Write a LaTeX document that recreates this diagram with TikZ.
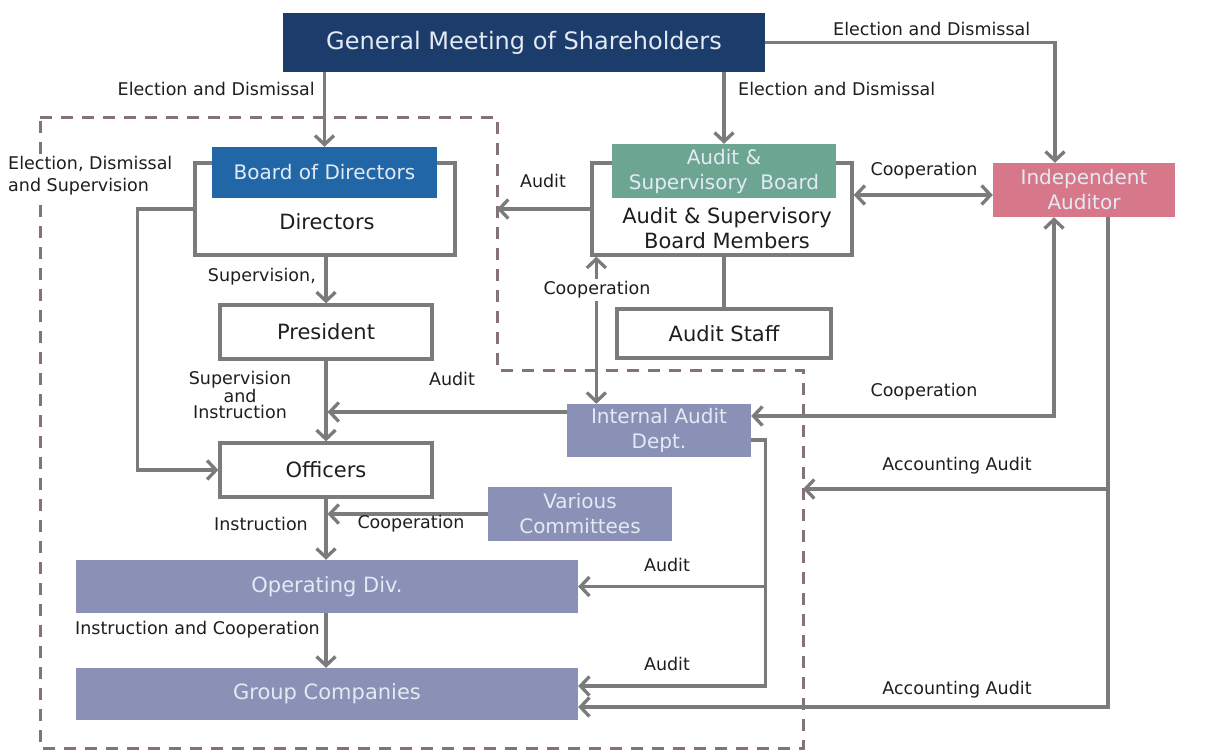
\documentclass[tikz,border=0pt]{standalone}
\usepackage{fontspec}
\setmainfont{DejaVu Sans}
\usetikzlibrary{arrows.meta,calc}
\definecolor{gmblue}{HTML}{1C3D6C}
\definecolor{bodblue}{HTML}{2167A8}
\definecolor{asbgreen}{HTML}{6CA693}
\definecolor{indred}{HTML}{D6788A}
\definecolor{lav}{HTML}{8A90B6}
\definecolor{linegray}{HTML}{7B7B7B}
\definecolor{dashc}{HTML}{857373}
\definecolor{textdark}{HTML}{1E1E1E}
\definecolor{lighttext}{HTML}{E4EAF3}
\begin{document}
\begin{tikzpicture}[x=1pt,y=-1pt,
  ln/.style={draw=linegray, line width=3.3pt},
  arr/.style={ln, -{Straight Barb[length=9pt,width=19pt]}},
  darr/.style={ln, {Straight Barb[length=9pt,width=19pt]}-{Straight Barb[length=9pt,width=19pt]}},
  dashline/.style={draw=dashc, line width=3pt, dash pattern=on 12pt off 9pt},
  whitebox/.style={draw=linegray, line width=3.3pt, fill=white, inner sep=0pt, text=textdark, font=\fontsize{21}{25}\selectfont},
  colbox/.style={inner sep=0pt, text=lighttext, align=center, font=\fontsize{20}{25}\selectfont},
  bigtxt/.style={inner sep=0pt, text=textdark, align=center, font=\fontsize{21}{25}\selectfont},
  lbl/.style={inner sep=1pt, text=textdark, align=center, font=\fontsize{17.5}{22}\selectfont},
]
\useasboundingbox (0,0) rectangle (1209,753);
% dashed boundary
\coordinate (dA) at (40,117);
\coordinate (dB) at (497,117);
\coordinate (dC) at (497,370);
\coordinate (dD) at (803,370);
\coordinate (dE) at (803,748);
\coordinate (dF) at (40,748);
\draw[dashline] (dA) -- (dB) -- (dC) -- (dD) -- (dE) -- (dF) -- cycle;

% nodes
\node[colbox, fill=gmblue, minimum width=482pt, minimum height=59pt, font=\fontsize{24}{28}\selectfont] (gm) at (524,42.5) {General Meeting of Shareholders};
\node[whitebox, minimum width=260pt, minimum height=92pt] (dirs) at (325,209) {};
\node[colbox, fill=bodblue, minimum width=225pt, minimum height=51pt] (bod) at (324.5,172.5) {Board of Directors};
\node[bigtxt] (dirstxt) at (327,222) {Directors};
\node[whitebox, minimum width=212pt, minimum height=54pt] (pres) at (326,332) {President};
\node[whitebox, minimum width=212pt, minimum height=54pt] (off) at (326,470) {Officers};
\node[whitebox, minimum width=260pt, minimum height=92pt] (asbf) at (722,209) {};
\node[colbox, fill=asbgreen, minimum width=224pt, minimum height=54pt] (asb) at (724,171) {Audit \&\\Supervisory\ \ Board};
\node[bigtxt] (asbmtxt) at (727,228) {Audit \& Supervisory\\Board Members};
\node[whitebox, minimum width=214pt, minimum height=49pt] (staff) at (724,333.5) {Audit Staff};
\node[colbox, fill=indred, minimum width=182pt, minimum height=54pt] (ind) at (1084,190) {Independent\\Auditor};
\node[colbox, fill=lav, minimum width=184pt, minimum height=53pt] (iad) at (659,430.5) {Internal Audit\\Dept.};
\node[colbox, fill=lav, minimum width=184pt, minimum height=54pt] (vc) at (580,514) {Various\\Committees};
\node[colbox, fill=lav, minimum width=502pt, minimum height=53pt, font=\fontsize{21}{25}\selectfont] (opdiv) at (327,586.5) {Operating Div.};
\node[colbox, fill=lav, minimum width=502pt, minimum height=52pt, font=\fontsize{21}{25}\selectfont] (grp) at (327,694) {Group Companies};

% connectors
\draw[arr] (gm.south -| bod.north) -- (bod.north);
\draw[arr] (gm.south -| asb.north) -- (asb.north);
\draw[arr] (gm.east) -| ([xshift=-29pt]ind.north);
\draw[arr] (dirs.south -| pres.north) -- (pres.north);
\draw[arr] (pres.south) -- (off.north);
\draw[arr] (dirs.west) -- ++(-56,0) |- (off.west);
\draw[arr] (off.south) -- (off.south |- opdiv.north);
\draw[arr] (opdiv.south -| off.south) -- (off.south |- grp.north);
\draw[arr, shorten >=1.5pt] ([yshift=18.5pt]iad.west) -- ([yshift=18.5pt]iad.west -| off.north);
\draw[arr, shorten >=1.5pt] (vc.west) -- (vc.west -| off.south);
\draw[arr] (asbf.west) -- (asbf.west -| dB);
\draw[darr] ([yshift=14pt]asbf.east) -- ([yshift=14pt]asbf.east -| ind.west);
\draw[ln] (asbf.south -| staff.north) -- (staff.north);
\draw[darr] ([xshift=6pt]asbf.south west) -- ([xshift=6pt]asbf.south west |- iad.north);
\draw[darr] ([xshift=-30pt]ind.south) |- ([yshift=14.5pt]iad.east);
\coordinate (accT) at ([xshift=24pt]ind.south);
\coordinate (accB) at (1108,489);
\draw[arr] (accT) |- ([yshift=-13pt]grp.east);
\draw[arr] (accB) -- (accB -| dD);
\coordinate (busT) at ([yshift=-9.5pt]iad.east);
\coordinate (busX) at ([xshift=14pt]busT);
\draw[arr] (busT) -- (busX) |- ([yshift=8pt]grp.east);
\draw[arr] (busX |- opdiv.east) -- (opdiv.east);

% labels
\node[lbl, anchor=east] (l1) at (316,89) {Election and Dismissal};
\node[lbl, anchor=west] (l2) at (737,89) {Election and Dismissal};
\node[lbl, anchor=west] (l3) at (832,29) {Election and Dismissal};
\node[lbl, anchor=west, align=left, fill=white, inner sep=3pt] (l4) at (5,176) {Election, Dismissal\\and Supervision};
\node[lbl, anchor=east] (l5) at (317,277) {Supervision,};
\node[lbl] (l6) at (543,181) {Audit};
\node[lbl] (l7) at (924,171) {Cooperation};
\node[lbl, font=\fontsize{17.5}{16}\selectfont] (l8) at (240,395) {Supervision\\and\\Instruction};
\node[lbl] (l9) at (452,379) {Audit};
\node[lbl, fill=white, inner sep=3pt] (l10) at (597,290) {Cooperation};
\node[lbl] (l11) at (924,392) {Cooperation};
\node[lbl] (l12) at (957,466) {Accounting Audit};
\node[lbl, anchor=east] (l13) at (309,524) {Instruction};
\node[lbl] (l14) at (411,524) {Cooperation};
\node[lbl] (l15) at (667,565) {Audit};
\node[lbl, anchor=east] (l16) at (321,630) {Instruction and Cooperation};
\node[lbl] (l17) at (667,664) {Audit};
\node[lbl] (l18) at (957,690) {Accounting Audit};
\end{tikzpicture}
\end{document}
